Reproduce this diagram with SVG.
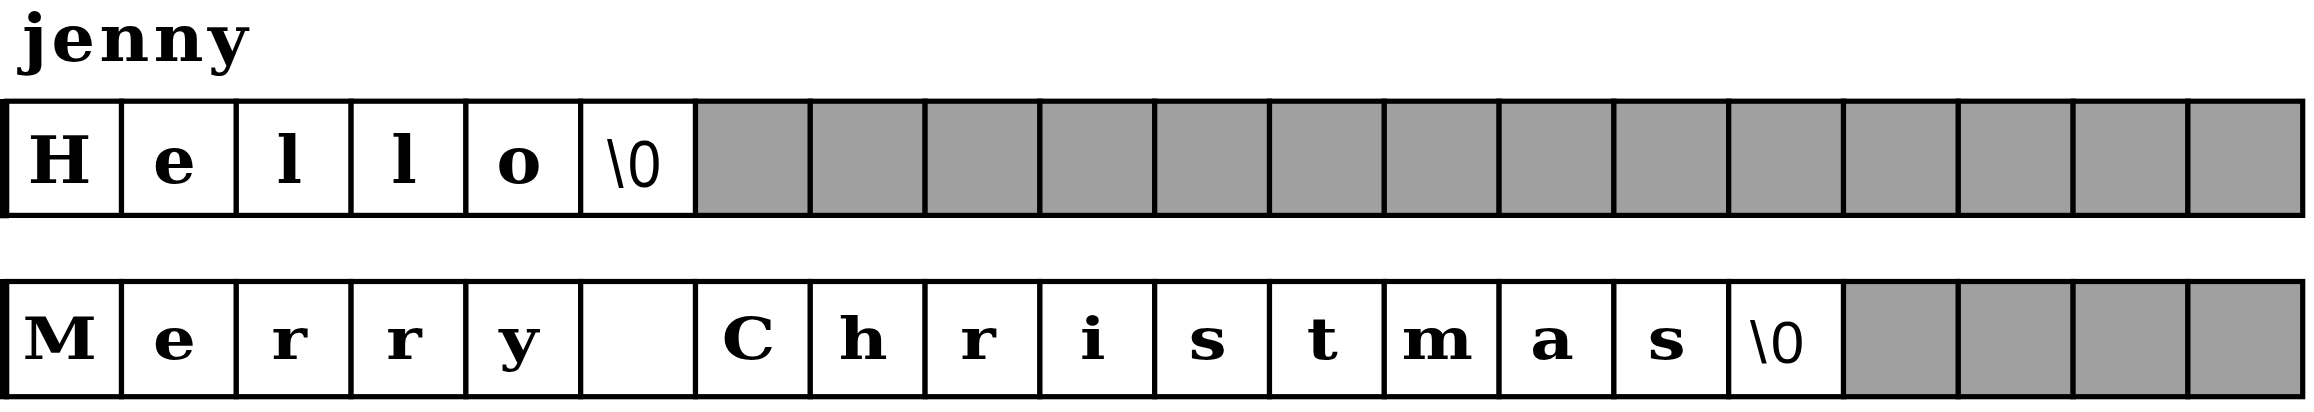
<svg xmlns="http://www.w3.org/2000/svg" width="2314" height="412" viewBox="0 0 2314 412">
<style>
.cell{fill:#fff;stroke:#000;stroke-width:5.2}
.empty{fill:#a0a0a0;stroke:#000;stroke-width:5.2}
.edge{fill:#000}
.ch{font-family:"DejaVu Serif","Liberation Serif",serif;font-weight:bold;font-size:57px;text-anchor:middle;fill:#000}
.nul{font-family:"Liberation Sans",Arial,sans-serif;font-size:60px;text-anchor:middle;fill:#000;letter-spacing:4px}
</style>
<rect width="2314" height="412" fill="#fff"/>
<g id="label"><text class="ch" transform="translate(135,61) scale(1.2,1.15)" textLength="188" lengthAdjust="spacing">jenny</text></g>
<g id="row1">
<g id="r1c0"><rect class="cell" x="6.7" y="101.2" width="114.8" height="114.2"/><text class="ch" transform="translate(59.6,182.5) scale(1.18,1.15)">H</text></g>
<g id="r1c1"><rect class="cell" x="121.5" y="101.2" width="114.8" height="114.2"/><text class="ch" transform="translate(174.4,182.5) scale(1.18,1.15)">e</text></g>
<g id="r1c2"><rect class="cell" x="236.3" y="101.2" width="114.8" height="114.2"/><text class="ch" transform="translate(289.2,182.5) scale(1.18,1.15)">l</text></g>
<g id="r1c3"><rect class="cell" x="351.1" y="101.2" width="114.8" height="114.2"/><text class="ch" transform="translate(404,182.5) scale(1.18,1.15)">l</text></g>
<g id="r1c4"><rect class="cell" x="465.9" y="101.2" width="114.8" height="114.2"/><text class="ch" transform="translate(518.8,182.5) scale(1.18,1.15)">o</text></g>
<g id="r1c5"><rect class="cell" x="580.7" y="101.2" width="114.8" height="114.2"/><text class="nul" transform="translate(636,187) scale(1,1.12)">\0</text></g>
<g id="r1c6"><rect class="empty" x="695.5" y="101.2" width="114.8" height="114.2"/></g>
<g id="r1c7"><rect class="empty" x="810.3" y="101.2" width="114.8" height="114.2"/></g>
<g id="r1c8"><rect class="empty" x="925.1" y="101.2" width="114.8" height="114.2"/></g>
<g id="r1c9"><rect class="empty" x="1039.9" y="101.2" width="114.8" height="114.2"/></g>
<g id="r1c10"><rect class="empty" x="1154.7" y="101.2" width="114.8" height="114.2"/></g>
<g id="r1c11"><rect class="empty" x="1269.5" y="101.2" width="114.8" height="114.2"/></g>
<g id="r1c12"><rect class="empty" x="1384.3" y="101.2" width="114.8" height="114.2"/></g>
<g id="r1c13"><rect class="empty" x="1499.1" y="101.2" width="114.8" height="114.2"/></g>
<g id="r1c14"><rect class="empty" x="1613.9" y="101.2" width="114.8" height="114.2"/></g>
<g id="r1c15"><rect class="empty" x="1728.7" y="101.2" width="114.8" height="114.2"/></g>
<g id="r1c16"><rect class="empty" x="1843.5" y="101.2" width="114.8" height="114.2"/></g>
<g id="r1c17"><rect class="empty" x="1958.3" y="101.2" width="114.8" height="114.2"/></g>
<g id="r1c18"><rect class="empty" x="2073.1" y="101.2" width="114.8" height="114.2"/></g>
<g id="r1c19"><rect class="empty" x="2187.9" y="101.2" width="114.8" height="114.2"/></g>
<rect class="edge" x="0" y="99" width="9" height="119.3"/>
</g>
<g id="row2">
<g id="r2c0"><rect class="cell" x="6.7" y="281.5" width="114.8" height="115.2"/><text class="ch" transform="translate(59.6,359) scale(1.18,1)">M</text></g>
<g id="r2c1"><rect class="cell" x="121.5" y="281.5" width="114.8" height="115.2"/><text class="ch" transform="translate(174.4,359) scale(1.18,1)">e</text></g>
<g id="r2c2"><rect class="cell" x="236.3" y="281.5" width="114.8" height="115.2"/><text class="ch" transform="translate(289.2,359) scale(1.18,1)">r</text></g>
<g id="r2c3"><rect class="cell" x="351.1" y="281.5" width="114.8" height="115.2"/><text class="ch" transform="translate(404,359) scale(1.18,1)">r</text></g>
<g id="r2c4"><rect class="cell" x="465.9" y="281.5" width="114.8" height="115.2"/><text class="ch" transform="translate(518.8,359) scale(1.18,1)">y</text></g>
<g id="r2c5"><rect class="cell" x="580.7" y="281.5" width="114.8" height="115.2"/></g>
<g id="r2c6"><rect class="cell" x="695.5" y="281.5" width="114.8" height="115.2"/><text class="ch" transform="translate(748.4,359) scale(1.18,1)">C</text></g>
<g id="r2c7"><rect class="cell" x="810.3" y="281.5" width="114.8" height="115.2"/><text class="ch" transform="translate(863.2,359) scale(1.18,1)">h</text></g>
<g id="r2c8"><rect class="cell" x="925.1" y="281.5" width="114.8" height="115.2"/><text class="ch" transform="translate(978,359) scale(1.18,1)">r</text></g>
<g id="r2c9"><rect class="cell" x="1039.9" y="281.5" width="114.8" height="115.2"/><text class="ch" transform="translate(1092.8,359) scale(1.18,1)">i</text></g>
<g id="r2c10"><rect class="cell" x="1154.7" y="281.5" width="114.8" height="115.2"/><text class="ch" transform="translate(1207.6,359) scale(1.18,1)">s</text></g>
<g id="r2c11"><rect class="cell" x="1269.5" y="281.5" width="114.8" height="115.2"/><text class="ch" transform="translate(1322.4,359) scale(1.18,1)">t</text></g>
<g id="r2c12"><rect class="cell" x="1384.3" y="281.5" width="114.8" height="115.2"/><text class="ch" transform="translate(1437.2,359) scale(1.18,1)">m</text></g>
<g id="r2c13"><rect class="cell" x="1499.1" y="281.5" width="114.8" height="115.2"/><text class="ch" transform="translate(1552,359) scale(1.18,1)">a</text></g>
<g id="r2c14"><rect class="cell" x="1613.9" y="281.5" width="114.8" height="115.2"/><text class="ch" transform="translate(1666.8,359) scale(1.18,1)">s</text></g>
<g id="r2c15"><rect class="cell" x="1728.7" y="281.5" width="114.8" height="115.2"/><text class="nul" x="1779" y="362.7">\0</text></g>
<g id="r2c16"><rect class="empty" x="1843.5" y="281.5" width="114.8" height="115.2"/></g>
<g id="r2c17"><rect class="empty" x="1958.3" y="281.5" width="114.8" height="115.2"/></g>
<g id="r2c18"><rect class="empty" x="2073.1" y="281.5" width="114.8" height="115.2"/></g>
<g id="r2c19"><rect class="empty" x="2187.9" y="281.5" width="114.8" height="115.2"/></g>
<rect class="edge" x="0" y="279" width="9" height="120.3"/>
</g>
<g id="connectors"/>
</svg>
